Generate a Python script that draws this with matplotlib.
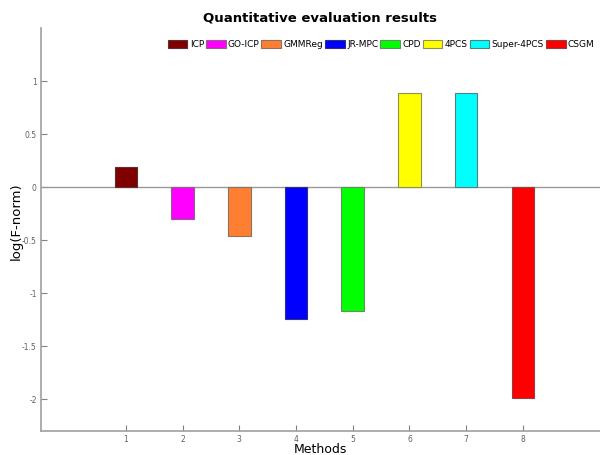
import matplotlib
matplotlib.use('Agg')
import matplotlib.pyplot as plt

methods = ['ICP', 'GO-ICP', 'GMMReg', 'JR-MPC', 'CPD', '4PCS', 'Super-4PCS', 'CSGM']
positions = [1, 2, 3, 4, 5, 6, 7, 8]
values = [0.19, -0.30, -0.46, -1.24, -1.17, 0.89, 0.89, -1.99]
colors = ['#800000', '#ff00ff', '#ff7f32', '#0000ff', '#00ff00', '#ffff00', '#00ffff', '#ff0000']
edges = ['#5a3030', '#906090', '#907060', '#303080', '#609060', '#909050', '#508080', '#904040']

fig = plt.figure(figsize=(6, 4.55), dpi=100)
ax = fig.add_axes([0.068, 0.053, 0.932, 0.885])

bars = ax.bar(positions, values, width=0.4, color=colors, edgecolor=edges,
              linewidth=0.8, label=methods, zorder=3)
ax.axhline(0, color='#999999', linewidth=1, zorder=2)

ax.set_xlim(-0.5, 9.36)
ax.set_ylim(-2.3, 1.5)
ax.set_xticks(positions)
ax.set_yticks([-2, -1.5, -1, -0.5, 0, 0.5, 1])
ax.set_yticklabels(['-2', '-1.5', '-1', '-0.5', '0', '0.5', '1'])

for side in ['top', 'right']:
    ax.spines[side].set_visible(False)
for side in ['left', 'bottom']:
    ax.spines[side].set_color('#a0a0a0')
    ax.spines[side].set_linewidth(1.2)
ax.tick_params(direction='in', length=4, color='#808080', labelsize=5.5,
               labelcolor='#606060', pad=3)

ax.set_title('Quantitative evaluation results', fontsize=9.5, fontweight='bold',
             pad=5)
ax.set_ylabel('log(F-norm)', fontsize=9.5)
ax.yaxis.set_label_coords(-0.033, 0.52)
ax.set_xlabel('Methods', fontsize=9, labelpad=-1)

ax.legend(bars, methods, loc='upper right', bbox_to_anchor=(1.0, 0.985), ncol=8,
          frameon=False, fontsize=6.5, handlelength=2.2, handleheight=1.0,
          handletextpad=0.25, columnspacing=0.2, borderaxespad=0.2)

fig.savefig('out.png', dpi=100)
